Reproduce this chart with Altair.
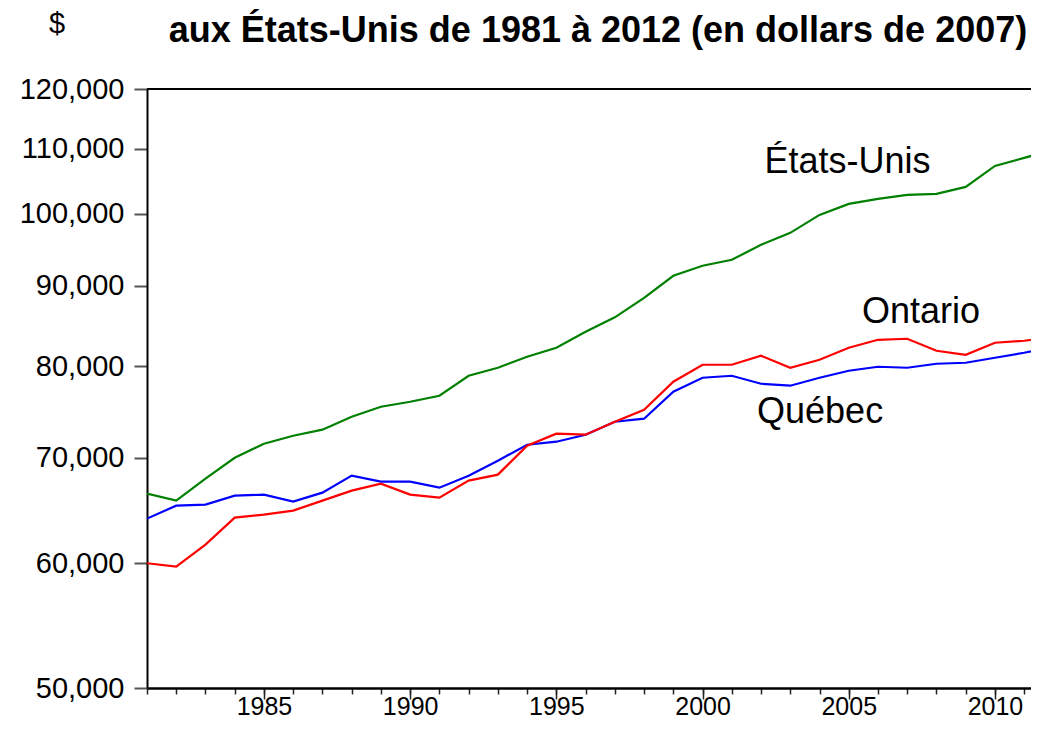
import altair as alt
import pandas as pd

years = list(range(1981, 2013))
etats_unis = [66425, 65750, 67900, 70000, 71455, 72295, 72935, 74330, 75425, 75975,
              76645, 78915, 79845, 81140, 82210, 84155, 85955, 88440, 91330, 92675,
              93490, 95560, 97250, 99835, 101455, 102200, 102800, 102950, 104005, 107245,
              108505, 109800]
quebec = [64045, 65270, 65365, 66230, 66330, 65655, 66520, 68195, 67600, 67600,
          67010, 68195, 69705, 71350, 71665, 72400, 73790, 74115, 77095, 78685,
          78915, 78000, 77775, 78685, 79495, 79960, 79845, 80310, 80430, 81020,
          81610, 82330]
ontario = [60000, 59710, 61655, 64140, 64420, 64795, 65750, 66720, 67405, 66330,
           66035, 67700, 68295, 71250, 72510, 72400, 73790, 75095, 78230, 80195,
           80195, 81260, 79845, 80780, 82210, 83175, 83300, 81850, 81375, 82815,
           83055, 83540]

series_names = ["États-Unis", "Québec", "Ontario"]
series_colors = ["#008000", "#0000ff", "#ff0000"]

label_names = ["États-Unis", "Ontario", "Québec"]
label_years = [2004.96, 2007.47, 2004.02]
label_values = [106155, 85270, 73680]

x_major = [1985, 1990, 1995, 2000, 2005, 2010]
y_ticks = [50000, 60000, 70000, 80000, 90000, 100000, 110000, 120000]
title_text = "aux États-Unis de 1981 à 2012 (en dollars de 2007)"
unit_text = "$"

rows = []
for name, vals in zip(series_names, [etats_unis, quebec, ontario]):
    for yr, v in zip(years, vals):
        rows.append({"year": yr, "value": v, "series": name})
df = pd.DataFrame(rows)
labels_df = pd.DataFrame({"year": label_years, "value": label_values, "label": label_names})

W, H = 884, 599
FONT = "Liberation Sans"

xscale = alt.Scale(domain=[1981, 1981 + W / 29.24], nice=False, zero=False)
yscale = alt.Scale(type="log", domain=[50000, 120000], nice=False)

x_minor_axis = alt.Axis(
    orient="bottom", values=years[:-1], labels=False, title=None, grid=False,
    tickSize=6, tickColor="#222", tickWidth=1.5, domainColor="#000", domainWidth=2,
)
x_major_axis = alt.Axis(
    orient="bottom", values=x_major, format="d", title=None, grid=False,
    tickSize=11, tickColor="#222", tickWidth=1.5, domainColor="#000", domainWidth=2,
    labelFont=FONT, labelFontSize=25, labelColor="#000", labelPadding=15,
    labelBaseline="alphabetic",
    labelOverlap=False, labelFlush=False, labelBound=False,
)
y_axis = alt.Axis(
    values=y_ticks, format=",d", title=None, grid=False,
    tickSize=13, tickColor="#555", tickWidth=2, domainColor="#000", domainWidth=2,
    labelFont=FONT, labelFontSize=29, labelColor="#000", labelPadding=10,
    labelOverlap=False, labelFlush=False, labelBound=False,
)

lines = alt.Chart(df).mark_line(strokeWidth=2.2, clip=True).encode(
    x=alt.X("year:Q", scale=xscale, axis=x_minor_axis),
    y=alt.Y("value:Q", scale=yscale, axis=y_axis),
    color=alt.Color("series:N", scale=alt.Scale(domain=series_names, range=series_colors), legend=None),
    detail="series:N",
)

labels = alt.Chart(labels_df).mark_text(
    font=FONT, fontSize=36, color="#000", align="center", baseline="alphabetic"
).encode(
    x=alt.X("year:Q", scale=xscale, axis=x_major_axis),
    y=alt.Y("value:Q", scale=yscale),
    text="label:N",
)

title = alt.Chart(pd.DataFrame({"t": [title_text]})).mark_text(
    font=FONT, fontSize=36, fontWeight="bold", color="#000", align="center", baseline="alphabetic"
).encode(x=alt.value(451), y=alt.value(-47), text="t:N")

unit = alt.Chart(pd.DataFrame({"t": [unit_text]})).mark_text(
    font=FONT, fontSize=29, color="#000", align="center", baseline="alphabetic"
).encode(x=alt.value(-90), y=alt.value(-56), text="t:N")

top_rule = alt.Chart(pd.DataFrame({"a": [0]})).mark_rule(color="#000", strokeWidth=2).encode(
    x=alt.value(0), x2=alt.value(W), y=alt.value(0)
)

chart = alt.layer(lines, labels, top_rule, title, unit).resolve_axis(
    x="independent"
).properties(
    width=W, height=H,
    autosize=alt.AutoSizeParams(type="none"),
    padding={"left": 139, "top": 81, "right": 0, "bottom": 31},
).configure_view(stroke=None)

chart.save("out.html", embed_options={"renderer": "svg", "actions": False})
